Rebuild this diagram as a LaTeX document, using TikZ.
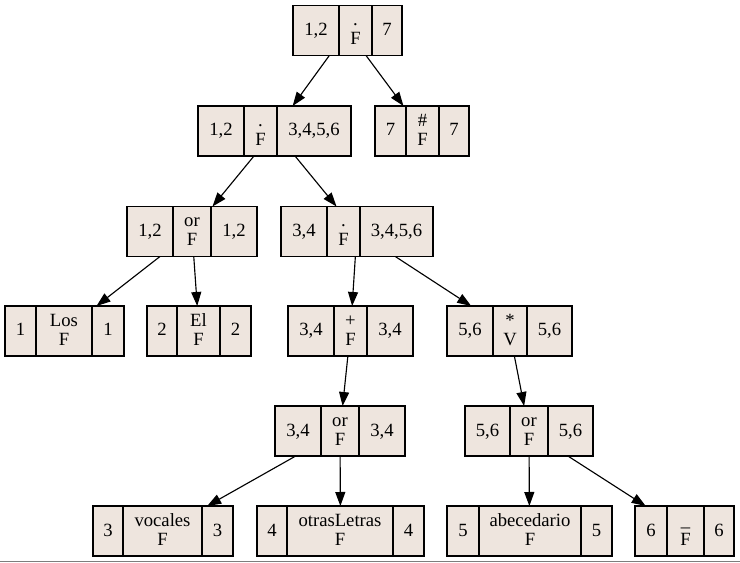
\documentclass[tikz,border=0pt]{standalone}
\usepackage{fontspec}
\setmainfont{Liberation Serif}
\usetikzlibrary{arrows.meta}

\definecolor{recfill}{RGB}{238,229,222}
\definecolor{rulegray}{RGB}{125,125,125}

\tikzset{
  recbox/.style={draw=black, fill=recfill, line width=0.8pt, inner sep=0pt, outer sep=0pt},
  cellsep/.style={draw=black, line width=0.8pt},
  celltext/.style={anchor=base, inner sep=0pt, font=\fontsize{14}{16}\selectfont},
  treeedge/.style={draw=black, line width=0.85pt, -{Triangle[length=10.5pt,width=7.5pt]}},
}

% Three-cell record: name, x-left, divider 1, divider 2, x-right,
% left text, symbol, flag, right text.  The row top is taken from \rowtop.
\newcommand\recnode[9]{%
  \node[recbox, minimum width={(#5-#2)*0.75pt}, minimum height=37.5pt]
    (#1) at ({(#2+#5)/2},{\rowtop+25}) {};
  \draw[cellsep] (#3,\rowtop) -- (#3,\rowtop+50);
  \draw[cellsep] (#4,\rowtop) -- (#4,\rowtop+50);
  \node[celltext] (#1-l) at ({(#2+#3)/2},{\rowtop+30}) {#6};
  \node[celltext] (#1-s) at ({(#3+#4)/2},{\rowtop+20.5}) {#7};
  \node[celltext] (#1-f) at ({(#3+#4)/2},{\rowtop+39.5}) {#8};
  \node[celltext] (#1-r) at ({(#4+#5)/2},{\rowtop+30}) {#9};
}

\begin{document}
\begin{tikzpicture}[x=0.75pt,y=-0.75pt]
  \useasboundingbox (0,0) rectangle (740,563);

  % level 0
  \def\rowtop{5.5}
  \recnode{n1}{293}{339}{372}{402}{1,2}{.}{F}{7}

  % level 1
  \def\rowtop{106}
  \recnode{n2}{198}{244}{277}{351}{1,2}{.}{F}{3,4,5,6}
  \recnode{n3}{375}{406}{439}{469}{7}{\#}{F}{7}

  % level 2
  \def\rowtop{206.5}
  \recnode{n4}{127}{173}{211}{257}{1,2}{or}{F}{1,2}
  \recnode{n5}{281}{327}{360}{433}{3,4}{.}{F}{3,4,5,6}

  % level 3
  \def\rowtop{306}
  \recnode{n6}{5}{36}{92}{124}{1}{Los}{F}{1}
  \recnode{n7}{147}{177}{220}{251}{2}{El}{F}{2}
  \recnode{n8}{288}{334}{367}{413}{3,4}{+}{F}{3,4}
  \recnode{n9}{447}{493}{527}{572}{5,6}{*}{V}{5,6}

  % level 4
  \def\rowtop{406}
  \recnode{n10}{275}{321}{359}{405}{3,4}{or}{F}{3,4}
  \recnode{n11}{465}{510}{548}{593}{5,6}{or}{F}{5,6}

  % level 5
  \def\rowtop{506}
  \recnode{n12}{93}{123}{202}{233}{3}{vocales}{F}{3}
  \recnode{n13}{257}{287}{393}{424}{4}{otrasLetras}{F}{4}
  \recnode{n14}{447}{479}{581}{612}{5}{abecedario}{F}{5}
  \recnode{n15}{635}{667}{704}{734}{6}{\_}{F}{6}

  % tree edges
  \draw[treeedge] (n1) -- (n2);
  \draw[treeedge] (n1) -- (n3);
  \draw[treeedge] (n2) -- (n4);
  \draw[treeedge] (n2) -- (n5);
  \draw[treeedge] (n4) -- (n6);
  \draw[treeedge] (n4) -- (n7);
  \draw[treeedge] (n5) -- (n8);
  \draw[treeedge] (n5) -- (n9);
  \draw[treeedge] (n8) -- (n10);
  \draw[treeedge] (n9) -- (n11);
  \draw[treeedge] (n10) -- (n12);
  \draw[treeedge] (n10) -- (n13);
  \draw[treeedge] (n11) -- (n14);
  \draw[treeedge] (n11) -- (n15);

  % bottom rule
  \draw[rulegray, line width=1.1pt] (0,561.5) -- (740,561.5);
\end{tikzpicture}
\end{document}
